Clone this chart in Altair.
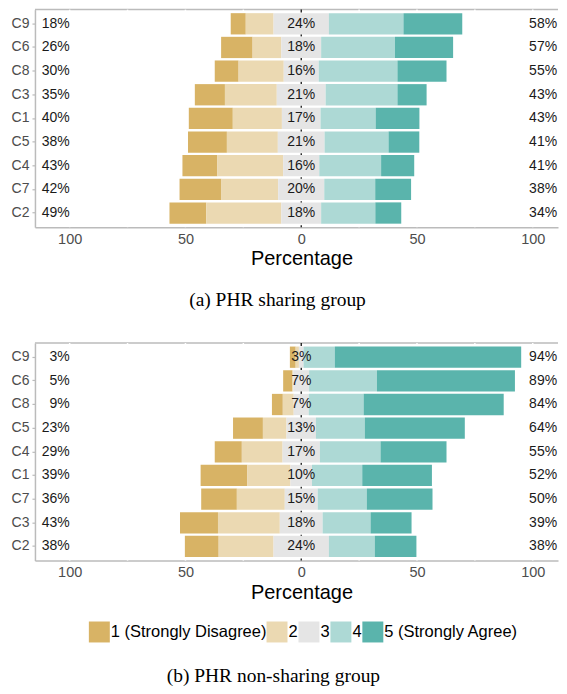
import altair as alt
import pandas as pd

levels = ["1 (Strongly Disagree)", "2", "3", "4", "5 (Strongly Agree)"]
palette = ["#D8B365", "#EBD9B2", "#E5E5E5", "#ADD9D5", "#5AB4AC"]

# Panel (a): PHR sharing group
a_items = ["C9", "C6", "C8", "C3", "C1", "C5", "C4", "C7", "C2"]
a_l1 = [6.5, 13.6, 10.3, 13.0, 19.0, 16.8, 15.1, 18.1, 15.9]
a_l2 = [12.0, 12.4, 19.5, 22.4, 21.2, 22.0, 28.4, 24.5, 32.4]
a_l3 = [23.9, 17.2, 15.1, 21.1, 16.7, 20.2, 15.6, 19.9, 17.2]
a_l4 = [32.2, 31.9, 34.0, 31.0, 23.8, 27.6, 26.7, 22.0, 23.4]
a_l5 = [25.4, 25.1, 21.2, 12.6, 18.9, 13.3, 14.3, 15.5, 11.2]
a_low = ["18%", "26%", "30%", "35%", "40%", "38%", "43%", "42%", "49%"]
a_mid = ["24%", "18%", "16%", "21%", "17%", "21%", "16%", "20%", "18%"]
a_high = ["58%", "57%", "55%", "43%", "43%", "41%", "41%", "38%", "34%"]

# Panel (b): PHR non-sharing group
b_items = ["C9", "C6", "C8", "C5", "C4", "C1", "C7", "C3", "C2"]
b_l1 = [2.5, 4.0, 4.7, 12.9, 11.7, 20.2, 15.4, 16.4, 14.6]
b_l2 = [1.4, 0.4, 4.7, 10.2, 17.6, 18.6, 20.7, 26.7, 23.7]
b_l3 = [2.0, 6.8, 6.5, 12.7, 16.1, 9.3, 14.2, 18.5, 23.9]
b_l4 = [13.5, 29.3, 23.7, 21.1, 26.2, 21.7, 21.2, 20.7, 19.8]
b_l5 = [80.5, 59.6, 60.5, 43.2, 28.5, 30.1, 28.4, 17.7, 18.0]
b_low = ["3%", "5%", "9%", "23%", "29%", "39%", "36%", "43%", "38%"]
b_mid = ["3%", "7%", "7%", "13%", "17%", "10%", "15%", "18%", "24%"]
b_high = ["94%", "89%", "84%", "64%", "55%", "52%", "50%", "39%", "38%"]

grid_vals = [-100, -75, -50, -25, 25, 50, 75, 100]
tick_vals = [-100, -50, 0, 50, 100]

W = 524
H = 218
BORDER = "#BBBBBB"
SANS = "Liberation Sans"
SERIF = "Liberation Serif"


def build(items, l1, l2, l3, l4, l5):
    rows = []
    for i, it in enumerate(items):
        vals = [l1[i], l2[i], l3[i], l4[i], l5[i]]
        start = -(l3[i] / 2 + l2[i] + l1[i])
        for lev, v in zip(levels, vals):
            rows.append({"item": it, "level": lev, "x0": start, "x1": start + v})
            start += v
    return pd.DataFrame(rows)


def panel(items, l1, l2, l3, l4, l5, low, mid, high, legend, caption=None):
    df = build(items, l1, l2, l3, l4, l5)
    lab = pd.DataFrame({"item": items, "low": low, "mid": mid, "high": high,
                        "xl": [-100] * len(items), "xm": [0] * len(items),
                        "xh": [110.5] * len(items)})
    xs = alt.Scale(domain=[-115, 110.9], nice=False, zero=False)
    xa = alt.Axis(values=tick_vals, labelExpr="abs(datum.value)", ticks=False,
                  grid=False, domain=True, domainColor=BORDER, domainWidth=1.5,
                  labelFont=SANS, labelFontSize=14.5, labelColor="#4D4D4D",
                  labelPadding=5, title="Percentage", titleFont=SANS,
                  titleFontSize=20, titleFontWeight="normal", titleColor="black",
                  titlePadding=3, titleX=267)
    ys = alt.Scale(domain=items, paddingInner=0.1, paddingOuter=0.15)
    ya = alt.Axis(title=None, labelFont=SANS, labelFontSize=14, labelColor="#4D4D4D",
                  tickColor=BORDER, tickSize=3, tickWidth=1.2, domainColor=BORDER,
                  domainWidth=1.5, grid=False, labelPadding=3,
                  minExtent=27, maxExtent=27)
    X = lambda f: alt.X(f, type="quantitative", scale=xs, axis=xa)
    Y = alt.Y("item:N", sort=items, scale=ys, axis=ya)

    one = pd.DataFrame({"k": [0]})
    top = alt.Chart(one).mark_rule(color=BORDER, strokeWidth=1.5).encode(
        x=alt.value(0), x2=alt.value(W), y=alt.value(0))
    grid = alt.Chart(pd.DataFrame({"g": grid_vals})).mark_rule(
        color="white", strokeWidth=1.5).encode(x=X("g"))
    zero = alt.Chart(pd.DataFrame({"z": [0]})).mark_rule(
        color="black", strokeWidth=1.2, strokeDash=[3, 3]).encode(x=X("z"))
    bars = alt.Chart(df).mark_bar().encode(
        x=X("x0"), x2="x1", y=Y,
        color=alt.Color("level:N", sort=levels,
                        scale=alt.Scale(domain=levels, range=palette),
                        legend=legend))
    tl = alt.Chart(lab).mark_text(align="right", baseline="middle", font=SANS,
                                  fontSize=14, color="#1A1A1A").encode(
        x=X("xl"), y=Y, text="low:N")
    tm = alt.Chart(lab).mark_text(align="center", baseline="middle", font=SANS,
                                  fontSize=14, color="#1A1A1A").encode(
        x=X("xm"), y=Y, text="mid:N")
    th = alt.Chart(lab).mark_text(align="right", baseline="middle", font=SANS,
                                  fontSize=14, color="#1A1A1A").encode(
        x=X("xh"), y=Y, text="high:N")
    ch = alt.layer(top, grid, zero, bars, tl, tm, th).properties(width=W, height=H)
    if caption:
        ch = ch.properties(title=alt.TitleParams(
            caption, orient="bottom", font=SERIF, fontSize=19.5,
            fontWeight="normal", color="black", anchor="middle", offset=22,
            dx=-19))
    return ch


legend_b = alt.Legend(title=None, orient="none", legendX=54, legendY=279,
                      direction="horizontal", symbolType="square", symbolSize=441,
                      symbolStrokeWidth=0, labelFont=SANS, labelFontSize=16.5,
                      labelColor="black", labelOffset=1, columnPadding=0)

pa = panel(a_items, a_l1, a_l2, a_l3, a_l4, a_l5, a_low, a_mid, a_high,
           legend=None, caption="(a)  PHR sharing group")
pb = panel(b_items, b_l1, b_l2, b_l3, b_l4, b_l5, b_low, b_mid, b_high,
           legend=legend_b)

chart = alt.vconcat(pa, pb, spacing=33).resolve_scale(color="independent").properties(
    title=alt.TitleParams("(b)  PHR non-sharing group", orient="bottom",
                          font=SERIF, fontSize=19.5, fontWeight="normal",
                          color="black", anchor="middle", offset=25, dx=-10),
    padding={"left": 0, "top": 0, "right": 0, "bottom": 0},
).configure_view(stroke=None).configure_axis(
    labelFontWeight="normal")

chart.save("out.html", embed_options={"renderer": "svg", "actions": False})
